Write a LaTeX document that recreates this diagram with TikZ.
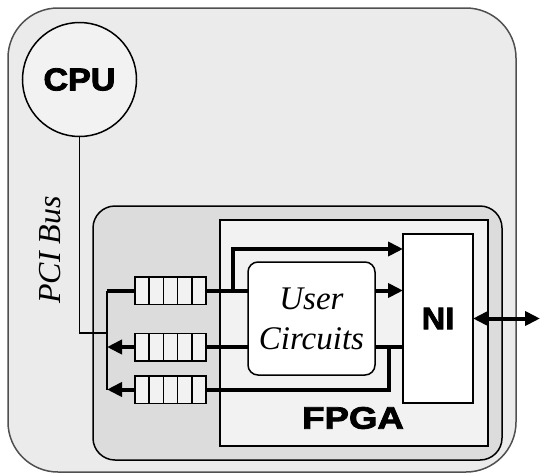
\documentclass[tikz,border=0pt]{standalone}
\usepackage{fontspec}
\setmainfont{Liberation Serif}
\newfontfamily\headfont[BoldFeatures={FakeBold=2.5}]{Liberation Sans}
\usetikzlibrary{arrows.meta,calc}
\definecolor{boardfill}{HTML}{EBEBEB}
\definecolor{cardfill}{HTML}{DCDCDC}
\definecolor{chipfill}{HTML}{F2F2F2}
\definecolor{boardline}{HTML}{505050}
\tikzset{
  box/.style={draw, line width=1.5pt, inner sep=0pt, outer sep=0pt},
  fifo/.style={box, fill=chipfill, minimum width=71pt, minimum height=27.5pt},
  busline/.style={line width=1.3pt},
  datapath/.style={line width=4pt},
  datapatharrow/.style={line width=4pt, -{Triangle[length=15pt,width=14pt]}},
  heavylabel/.style={font=\headfont\bfseries\fontsize{31}{36}\selectfont},
}
\begin{document}
\begin{tikzpicture}[x=1pt,y=-1pt]
\useasboundingbox (0,0) rectangle (540,474);

% host board, accelerator card and FPGA
\node[box, draw=boardline, fill=boardfill, rounded corners=50pt,
      minimum width=508pt, minimum height=464pt] (board) at (262,240) {};
\node[box, fill=cardfill, rounded corners=22pt,
      minimum width=409pt, minimum height=254pt] (card) at (297.5,333) {};
\node[box, line width=1.8pt, fill=chipfill,
      minimum width=268pt, minimum height=226pt] (fpga) at (354,333) {};

% processor
\node[box, circle, fill=chipfill, minimum size=114pt, heavylabel] (cpu) at (79.5,79.5)
  {\scalebox{1.1}[1.02]{CPU}};

% network interface and user logic
\node[box, fill=white, minimum width=70pt, minimum height=169pt, heavylabel] (ni) at (438,318.5)
  {\scalebox{1.05}[1]{NI}};
\node[box, fill=white, rounded corners=10pt, minimum width=127pt, minimum height=113pt,
      align=center, font=\itshape\fontsize{33}{40}\selectfont] (uc) at (311.5,318.5)
  {User\\Circuits};
\node[heavylabel] (fpgalabel) at (353,418) {\scalebox{1.18}[1]{FPGA}};

% bus label
\node[rotate=90, font=\itshape\fontsize{32}{36}\selectfont] (pcilabel) at (50,250) {PCI Bus};

% FIFO queues
\node[fifo] (q1) at (170.5,290.5) {};
\node[fifo] (q2) at (170.5,347) {};
\node[fifo] (q3) at (170.5,389.5) {};
\foreach \q in {q1,q2,q3}
  \foreach \i in {1,...,4}
    \draw[line width=1.5pt] ($(\q.south west)!\i/5!(\q.south east)$) -- ($(\q.north west)!\i/5!(\q.north east)$);

% junction points
\coordinate (bustop) at (107,290.5);
\coordinate (busmid) at (107,347);
\coordinate (busbot) at (107,389.5);
\coordinate (busjoin) at (107,333);
\coordinate (bypass) at (233,249);
\coordinate (merge) at (389,347);
\coordinate (netport) at (540,318.5);

% PCI bus
\draw[busline] (cpu.south) |- (busjoin);
\draw[busline] (bustop) -- (busbot);

% data paths
\draw[datapath] (bustop) -- (q1.west);
\draw[datapatharrow] (q2.west) -- (busmid);
\draw[datapatharrow] (q3.west) -- (busbot);
\draw[datapath] (q1.east) -- (q1.east -| uc.west);
\draw[datapatharrow] (q1.east -| bypass) -- (bypass) -- (bypass -| ni.west);
\draw[datapath] (q2.east) -- (q2.east -| uc.west);
\draw[datapatharrow] (uc.east |- q1.east) -- (q1.east -| ni.west);
\draw[datapath] (uc.east |- merge) -- (merge -| ni.west);
\draw[datapath] (q3.east) -| (merge);
\draw[line width=4pt, {Triangle[length=15pt,width=14pt]}-{Triangle[length=15pt,width=14pt]}] (ni.east) -- (netport);
\end{tikzpicture}
\end{document}
